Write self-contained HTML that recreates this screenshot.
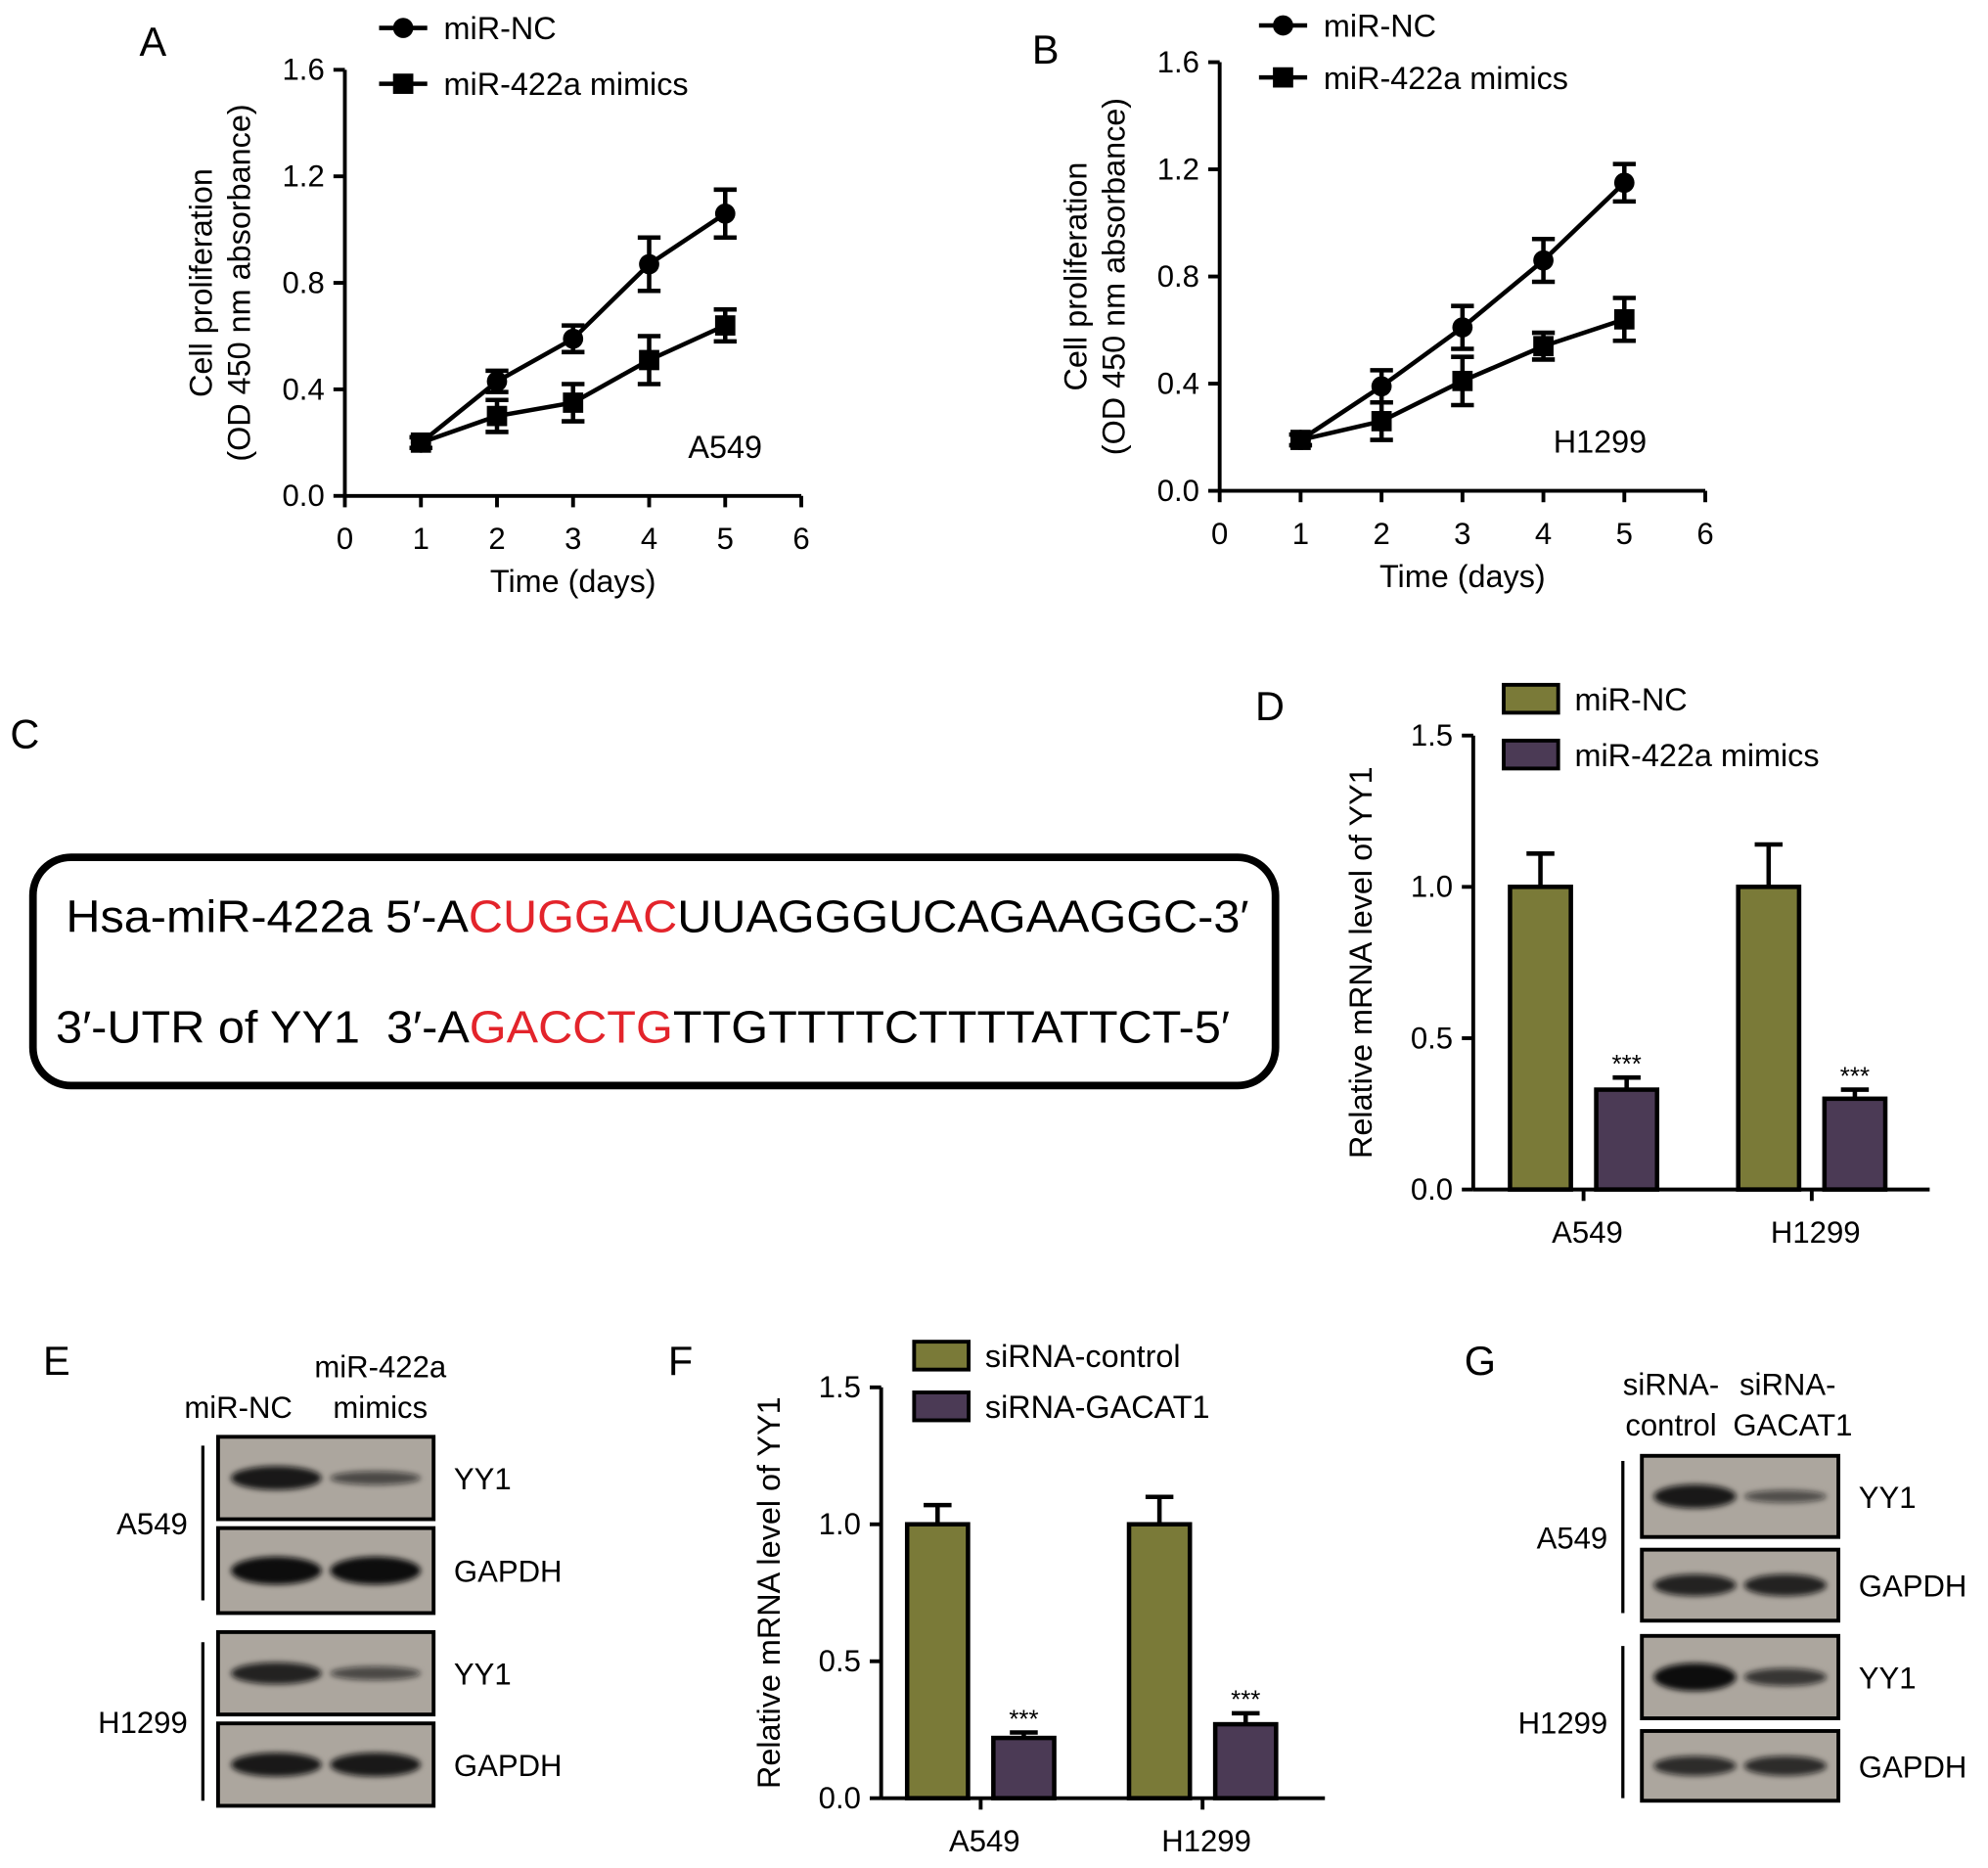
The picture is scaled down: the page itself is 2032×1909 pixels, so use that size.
<!DOCTYPE html>
<html><head><meta charset="utf-8"><style>
html,body{margin:0;padding:0;background:#fff;}
svg{display:block;font-family:"Liberation Sans",Arial,sans-serif;}
</style></head><body>
<svg id="fig" width="2032" height="1909" viewBox="0 0 1568 1473" xmlns="http://www.w3.org/2000/svg">
<defs><filter id="bl" x="-20%" y="-50%" width="140%" height="200%"><feGaussianBlur stdDeviation="2.2"/></filter></defs>
<g font-size="32" fill="#000">
<text x="110" y="44">A</text>
<text x="814" y="50">B</text>
<text x="8" y="590">C</text>
<text x="990" y="568">D</text>
<text x="34" y="1084">E</text>
<text x="527" y="1084">F</text>
<text x="1155" y="1084">G</text>
</g>
<g>
<rect x="26" y="676" width="980" height="180" rx="30" fill="none" stroke="#000" stroke-width="6"/>
<text x="52" y="735" font-size="36" textLength="933" lengthAdjust="spacingAndGlyphs">Hsa-miR-422a 5′-A<tspan fill="#e3242b">CUGGAC</tspan>UUAGGGUCAGAAGGC-3′</text>
<text x="44" y="822" font-size="36" textLength="926" lengthAdjust="spacingAndGlyphs" xml:space="preserve" style="white-space:pre">3′-UTR of YY1  3′-A<tspan fill="#e3242b">GACCTG</tspan>TTGTTTTCTTTTATTCT-5′</text>
</g>
<g id="gA"></g>
<g id="gB"></g>
<g id="gD"></g>
<g id="gF"></g>
<g id="gE"></g>
<g id="gG"></g>
</svg>
<script>
// Panel A data
const daysA = [1,2,3,4,5];
const ncA = [0.2,0.43,0.59,0.87,1.06];
const ncAErr = [0.02,0.04,0.05,0.1,0.09];
const mimA = [0.2,0.3,0.35,0.51,0.64];
const mimAErr = [0.02,0.06,0.07,0.09,0.06];
// Panel B data
const daysB = [1,2,3,4,5];
const ncB = [0.19,0.39,0.61,0.86,1.15];
const ncBErr = [0.02,0.06,0.08,0.08,0.07];
const mimB = [0.19,0.26,0.41,0.54,0.64];
const mimBErr = [0.02,0.07,0.09,0.05,0.08];
const xTicksLine = [0,1,2,3,4,5,6];
const yTicksLine = ["0.0","0.4","0.8","1.2","1.6"];
// Panel D data
const catsD = ["A549","H1299"];
const ncD = [1.0,1.0];
const ncDErr = [0.11,0.14];
const mimD = [0.33,0.30];
const mimDErr = [0.04,0.03];
// Panel F data
const catsF = ["A549","H1299"];
const ctlF = [1.0,1.0];
const ctlFErr = [0.07,0.1];
const siF = [0.22,0.27];
const siFErr = [0.02,0.04];
const yTicksBar = ["0.0","0.5","1.0","1.5"];

const NS="http://www.w3.org/2000/svg";
function mk(parent,tag,attrs,text){const e=document.createElementNS(NS,tag);for(const k in attrs)e.setAttribute(k,attrs[k]);if(text!==undefined)e.textContent=text;parent.appendChild(e);return e;}

function lineChart(g,o){
  const sx=v=>o.x0+(v-0)*(o.x1-o.x0)/6, sy=v=>o.y0-(v)*(o.y0-o.y1)/1.6;
  let a=mk(g,'line',{x1:o.x0,y1:o.y1,x2:o.x0,y2:o.y0,stroke:'#000','stroke-width':3});
  
  a=mk(g,'line',{x1:o.x0,y1:o.y0,x2:o.x1,y2:o.y0,stroke:'#000','stroke-width':3});
  
  yTicksLine.forEach(t=>{const y=sy(+t);mk(g,'line',{x1:o.x0-9,y1:y,x2:o.x0,y2:y,stroke:'#000','stroke-width':3});
    const l=mk(g,'text',{x:o.x0-16,y:y+8,'font-size':24,'text-anchor':'end'},t);
    });
  xTicksLine.forEach(t=>{const x=sx(t);mk(g,'line',{x1:x,y1:o.y0,x2:x,y2:o.y0+9,stroke:'#000','stroke-width':3});
    const l=mk(g,'text',{x:x,y:o.y0+42,'font-size':24,'text-anchor':'middle'},t);
    });
  let t=mk(g,'text',{x:(o.x0+o.x1)/2,y:o.y0+76,'font-size':25,'text-anchor':'middle'},'Time (days)');
  
  const cy=(o.y0+o.y1)/2;
  t=mk(g,'text',{x:0,y:0,'font-size':25,'text-anchor':'middle',transform:`translate(${o.x0-105},${cy}) rotate(-90)`},'Cell proliferation');
  
  t=mk(g,'text',{x:0,y:0,'font-size':25,'text-anchor':'middle',transform:`translate(${o.x0-75},${cy}) rotate(-90)`},'(OD 450 nm absorbance)');
  
  t=mk(g,'text',{x:o.cellX,y:o.y0-30,'font-size':25,'text-anchor':'middle'},o.cell);
  
  [[o.nc,o.ncE,'circle','nc'],[o.mim,o.mimE,'square','mimics']].forEach(([vals,errs,shape,nm])=>{
    const p=mk(g,'polyline',{points:o.days.map((d,i)=>sx(d)+','+sy(vals[i])).join(' '),fill:'none',stroke:'#000','stroke-width':3.5});
    
    o.days.forEach((d,i)=>{const x=sx(d),y=sy(vals[i]),e1=sy(vals[i]+errs[i]),e2=sy(vals[i]-errs[i]);
      const eb=mk(g,'path',{d:`M${x},${e1}V${e2}M${x-9},${e1}H${x+9}M${x-9},${e2}H${x+9}`,stroke:'#000','stroke-width':3.5,fill:'none'});
      
      let m=shape==='circle'?mk(g,'circle',{cx:x,cy:y,r:8}):mk(g,'rect',{x:x-8,y:y-8,width:16,height:16});
      });
  });
  [[o.legY1,'circle','miR-NC'],[o.legY2,'square','miR-422a mimics']].forEach(([y,s,lab])=>{
    const lg=mk(g,'g',{});
    mk(lg,'line',{x1:o.legX-19,y1:y,x2:o.legX+19,y2:y,stroke:'#000','stroke-width':3.5});
    if(s==='circle')mk(lg,'circle',{cx:o.legX,cy:y,r:8});else mk(lg,'rect',{x:o.legX-8,y:y-8,width:16,height:16});
    mk(lg,'text',{x:o.legX+32,y:y+9,'font-size':25},lab);
  });
}
lineChart(document.getElementById('gA'),{x0:272,x1:632,y0:391,y1:55,days:daysA,nc:ncA,ncE:ncAErr,mim:mimA,mimE:mimAErr,cell:'A549',cellX:572,legX:318,legY1:22,legY2:66});
lineChart(document.getElementById('gB'),{x0:962,x1:1345,y0:387,y1:49,days:daysB,nc:ncB,ncE:ncBErr,mim:mimB,mimE:mimBErr,cell:'H1299',cellX:1262,legX:1012,legY1:20,legY2:61});

function barChart(g,o){
  const sy=v=>o.y0-v*(o.y0-o.y1)/1.5;
  let a=mk(g,'line',{x1:o.x0,y1:o.y1,x2:o.x0,y2:o.y0,stroke:'#000','stroke-width':3});
  
  a=mk(g,'line',{x1:o.x0,y1:o.y0,x2:o.x1,y2:o.y0,stroke:'#000','stroke-width':3});
  
  yTicksBar.forEach(t=>{const y=sy(+t);mk(g,'line',{x1:o.x0-9,y1:y,x2:o.x0,y2:y,stroke:'#000','stroke-width':3});
    const l=mk(g,'text',{x:o.x0-16,y:y+8,'font-size':24,'text-anchor':'end'},t);
    });
  let t=mk(g,'text',{x:0,y:0,'font-size':25,'text-anchor':'middle',transform:`translate(${o.x0-80},${(o.y0+o.y1)/2}) rotate(-90)`},'Relative mRNA level of YY1');
  
  const step=(o.x1-o.x0)/o.cats.length;
  o.cats.forEach((c,i)=>{
    const cx=o.x0+step*(i+0.5)+o.off;
    mk(g,'line',{x1:cx,y1:o.y0,x2:cx,y2:o.y0+9,stroke:'#000','stroke-width':3});
    const l=mk(g,'text',{x:cx+3,y:o.y0+42,'font-size':24,'text-anchor':'middle'},c);
    
    [[o.a,o.aE,'#7a7a38',-1,'bar-control'],[o.b,o.bE,'#4b3a55',1,'bar-treated']].forEach(([v,e,col,sd,nm])=>{
      const bx=sd<0?cx-58:cx+10, w=48, top=sy(v[i]);
      const eb=mk(g,'path',{d:`M${bx+w/2},${top}V${sy(v[i]+e[i])}M${bx+w/2-11},${sy(v[i]+e[i])}H${bx+w/2+11}`,stroke:'#000','stroke-width':3.5,fill:'none'});
      
      const r=mk(g,'rect',{x:bx,y:top,width:w,height:o.y0-top,fill:col,stroke:'#000','stroke-width':3.5});
      
      if(sd>0){const s=mk(g,'text',{x:bx+w/2,y:sy(v[i]+e[i])-4,'font-size':20,'text-anchor':'middle'},'***');
        }
    });
  });
  [[o.legY1,'#7a7a38',o.lab1],[o.legY2,'#4b3a55',o.lab2]].forEach(([y,col,lab])=>{
    const lg=mk(g,'g',{});
    mk(lg,'rect',{x:o.legX,y:y-11,width:43,height:22,fill:col,stroke:'#000','stroke-width':3});
    mk(lg,'text',{x:o.legX+56,y:y+9,'font-size':25},lab);
  });
}
barChart(document.getElementById('gD'),{x0:1162,x1:1522,y0:938,y1:580,cats:catsD,a:ncD,aE:ncDErr,b:mimD,bE:mimDErr,off:-3,legX:1186,legY1:551,legY2:595,lab1:'miR-NC',lab2:'miR-422a mimics'});
barChart(document.getElementById('gF'),{x0:695,x1:1045,y0:1418,y1:1094,cats:catsF,a:ctlF,aE:ctlFErr,b:siF,bE:siFErr,off:-9,legX:721,legY1:1069,legY2:1109,lab1:'siRNA-control',lab2:'siRNA-GACAT1'});

function blot(g,o){
  o.boxes.forEach((b,i)=>{
    const bg=mk(g,'g',{});
    mk(bg,'rect',{x:o.x,y:b.y,width:o.w,height:b.h,fill:'#aca69e',stroke:'#000','stroke-width':3});
    const cy=b.y+b.h/2;
    [[o.x+o.w*0.27,b.s1],[o.x+o.w*0.73,b.s2]].forEach(([cx,s])=>{
      mk(bg,'ellipse',{cx:cx,cy:cy,rx:o.w*0.21,ry:8*s+3,fill:'#0c0c0c','fill-opacity':Math.min(1,0.45+s*0.6),filter:'url(#bl)'});});
    mk(bg,'text',{x:o.x+o.w+16,y:cy+9,'font-size':24},b.lab);
  });
  o.groups.forEach(gr=>{
    mk(g,'line',{x1:o.lineX,y1:gr.y1,x2:o.lineX,y2:gr.y2,stroke:'#000','stroke-width':2.5});
    const t=mk(g,'text',{x:o.lineX-12,y:(gr.y1+gr.y2)/2+9,'font-size':24,'text-anchor':'end'},gr.lab);
    
  });
  o.heads.forEach(h=>{const t=mk(g,'text',{x:h[0],y:h[1],'font-size':24,'text-anchor':'middle'},h[2]);
    });
}
blot(document.getElementById('gE'),{x:172,w:170,lineX:160,
  boxes:[{y:1133,h:65,lab:'YY1',s1:0.8,s2:0.3},{y:1205,h:67,lab:'GAPDH',s1:1,s2:1},{y:1287,h:65,lab:'YY1',s1:0.7,s2:0.3},{y:1359,h:65,lab:'GAPDH',s1:0.8,s2:0.8}],
  groups:[{y1:1140,y2:1262,lab:'A549'},{y1:1295,y2:1420,lab:'H1299'}],
  heads:[[188,1118,'miR-NC'],[300,1086,'miR-422a'],[300,1118,'mimics']]});
blot(document.getElementById('gG'),{x:1295,w:155,lineX:1280,
  boxes:[{y:1148,h:64,lab:'YY1',s1:0.8,s2:0.25},{y:1222,h:56,lab:'GAPDH',s1:0.7,s2:0.7},{y:1290,h:65,lab:'YY1',s1:1,s2:0.5},{y:1365,h:55,lab:'GAPDH',s1:0.6,s2:0.6}],
  groups:[{y1:1152,y2:1272,lab:'A549'},{y1:1298,y2:1418,lab:'H1299'}],
  heads:[[1318,1100,'siRNA-'],[1318,1132,'control'],[1410,1100,'siRNA-'],[1414,1132,'GACAT1']]});
</script>
</body></html>
